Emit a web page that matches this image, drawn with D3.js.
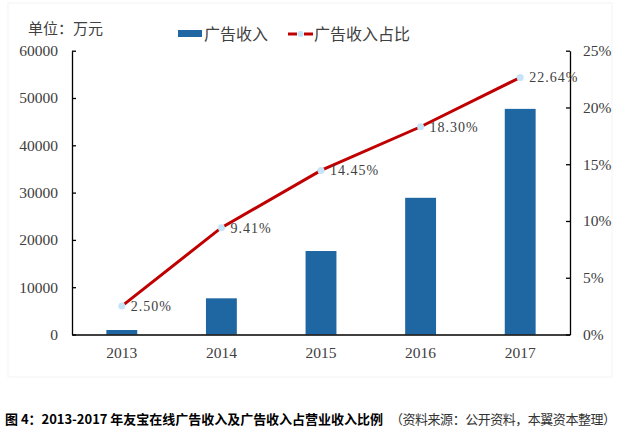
<!DOCTYPE html>
<html>
<head>
<meta charset="utf-8">
<script src="https://cdn.jsdelivr.net/npm/d3@7"></script>
<style>
  body { margin: 0; background: #fff; }
  svg { display: block; }
  .num { font-family: "Liberation Serif", "Times New Roman", serif; fill: #404040; }
  .cjk { font-family: "Noto Sans CJK SC", sans-serif; fill: #404040; }
</style>
</head>
<body>
<div id="chart"></div>
<script>
// data
var years = ["2013", "2014", "2015", "2016", "2017"];
var adRevenue = [950, 7650, 17650, 28900, 47700];   // 万元
var adShare = [2.50, 9.41, 14.45, 18.30, 22.64];     // %
var leftTicks = [0, 10000, 20000, 30000, 40000, 50000, 60000];
var rightTicks = [0, 5, 10, 15, 20, 25];

var w = 619;
var h = 431;
// plot box (note: "top" is taken by window.top)
var pLeft = 72, pRight = 570, pTop = 50.7, pBottom = 334.5;

var svg = d3.select("#chart")
    .append("svg")
    .attr("width", w)
    .attr("height", h);

// panel behind the chart
svg.append("rect")
    .attr("x", 8).attr("y", 3)
    .attr("width", 604).attr("height", 374)
    .attr("fill", "#fff")
    .attr("stroke", "#f3f3f3");

var xScale = d3.scaleBand()
    .domain(years)
    .range([pLeft, pRight])
    .paddingInner(0.69)
    .paddingOuter(0.345);

var xCenter = d3.scaleBand().domain(years).range([pLeft, pRight]);

var yLeft = d3.scaleLinear().domain([0, 60000]).range([pBottom, pTop]);
var yRight = d3.scaleLinear().domain([0, 25]).range([pBottom, pTop]);

// bars
svg.selectAll("rect.bar")
    .data(years)
    .enter().append("rect")
    .attr("class", "bar")
    .attr("x", function (d) { return xScale(d); })
    .attr("width", xScale.bandwidth())
    .attr("y", function (d, i) { return yLeft(adRevenue[i]); })
    .attr("height", function (d, i) { return pBottom - yLeft(adRevenue[i]); })
    .attr("fill", "#1f67a3");

// axes
var gLeft = svg.append("g")
    .attr("transform", "translate(" + pLeft + ",0)")
    .call(d3.axisLeft(yLeft).tickValues(leftTicks).tickSizeInner(-4).tickSizeOuter(0).tickPadding(14).tickFormat(d3.format("d")));

var gRight = svg.append("g")
    .attr("transform", "translate(" + pRight + ",0)")
    .call(d3.axisRight(yRight).tickValues(rightTicks).tickSizeInner(-4).tickSizeOuter(0).tickPadding(13).tickFormat(function (d) { return d + "%"; }));

var gBottom = svg.append("g")
    .attr("transform", "translate(0," + pBottom + ")")
    .call(d3.axisBottom(xCenter).tickSize(0).tickPadding(12));

[gLeft, gRight, gBottom].forEach(function (g) {
    g.selectAll("path, line").attr("stroke", "#000").attr("stroke-width", 1.3);
    g.selectAll("text")
        .attr("class", "num")
        .attr("font-family", null)
        .style("font-size", "15.5px")
        .attr("fill", "#404040");
});

// share line
var line = d3.line()
    .x(function (d, i) { return xCenter(years[i]) + xCenter.bandwidth() / 2; })
    .y(function (d) { return yRight(d); });

svg.append("path")
    .datum(adShare)
    .attr("d", line)
    .attr("fill", "none")
    .attr("stroke", "#c00000")
    .attr("stroke-width", 3);

svg.selectAll("circle.pt")
    .data(adShare)
    .enter().append("circle")
    .attr("class", "pt")
    .attr("cx", function (d, i) { return xCenter(years[i]) + xCenter.bandwidth() / 2; })
    .attr("cy", function (d) { return yRight(d); })
    .attr("r", 3.5)
    .attr("fill", "#c6e4f7");

svg.selectAll("text.lbl")
    .data(adShare)
    .enter().append("text")
    .attr("class", "lbl num")
    .attr("x", function (d, i) { return xCenter(years[i]) + xCenter.bandwidth() / 2 + 9; })
    .attr("y", function (d) { return yRight(d) + 5; })
    .style("font-size", "14px")
    .style("letter-spacing", "1px")
    .text(function (d) { return d.toFixed(2) + "%"; });

// unit label
svg.append("text")
    .attr("class", "cjk")
    .attr("x", 28).attr("y", 34)
    .style("font-size", "15px")
    .text("单位：万元");

// legend
svg.append("rect")
    .attr("x", 178).attr("y", 30)
    .attr("width", 24).attr("height", 7)
    .attr("fill", "#1f67a3");
svg.append("text")
    .attr("class", "cjk")
    .attr("x", 204).attr("y", 40)
    .style("font-size", "16px")
    .text("广告收入");

svg.append("line")
    .attr("x1", 288).attr("x2", 313)
    .attr("y1", 34).attr("y2", 34)
    .attr("stroke", "#c00000")
    .attr("stroke-width", 3)
    .attr("stroke-dasharray", "9,7");
svg.append("circle")
    .attr("cx", 300.5).attr("cy", 34).attr("r", 3)
    .attr("fill", "#c6e4f7");
svg.append("text")
    .attr("class", "cjk")
    .attr("x", 314).attr("y", 40)
    .style("font-size", "16px")
    .text("广告收入占比");

// caption
var cap = svg.append("text")
    .attr("x", 5).attr("y", 424)
    .attr("font-family", "'Noto Sans CJK SC', sans-serif")
    .style("font-size", "13px")
    .attr("fill", "#000");
cap.append("tspan")
    .attr("font-weight", "bold")
    .attr("textLength", 378)
    .text("图 4：2013-2017 年友宝在线广告收入及广告收入占营业收入比例");
cap.append("tspan")
    .attr("x", 390)
    .attr("fill", "#333")
    .attr("textLength", 226)
    .text("（资料来源：公开资料，本翼资本整理）");
</script>
</body>
</html>
